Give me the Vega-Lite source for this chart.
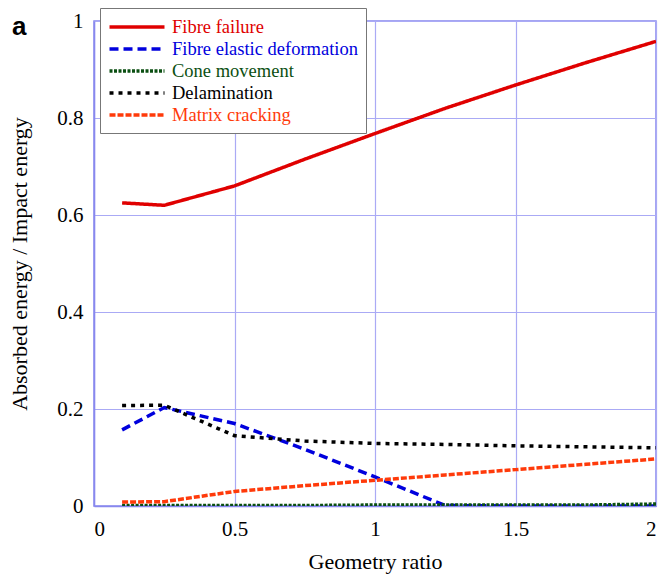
{
  "$schema": "https://vega.github.io/schema/vega-lite/v6.json",
  "autosize": "none",
  "width": 562,
  "height": 485,
  "padding": {"left": 94, "top": 21, "right": 5, "bottom": 75},
  "background": "white",
  "title": {"text": "a", "anchor": "start", "orient": "top", "frame": "group", "offset": 0, "dx": -82, "dy": 32, "font": "Liberation Sans", "fontSize": 26, "fontWeight": "bold", "color": "black"},
  "config": {
    "view": {"stroke": "#8888ee", "strokeWidth": 1.5},
    "axis": {"labelFont": "Liberation Serif", "titleFont": "Liberation Serif", "labelFontSize": 21, "titleFontSize": 22, "titleFontWeight": "normal", "labelColor": "black", "titleColor": "black", "gridColor": "#aaaaf5", "gridWidth": 1.2, "domainColor": "#8888ee", "domainWidth": 1.5, "ticks": false}
  },
  "data": {"values": [
    {"series": "Fibre failure", "x": 0.1, "y": 0.625},
    {"series": "Fibre failure", "x": 0.25, "y": 0.62},
    {"series": "Fibre failure", "x": 0.5, "y": 0.66},
    {"series": "Fibre failure", "x": 0.75, "y": 0.715},
    {"series": "Fibre failure", "x": 1.0, "y": 0.768},
    {"series": "Fibre failure", "x": 1.25, "y": 0.82},
    {"series": "Fibre failure", "x": 1.5, "y": 0.868},
    {"series": "Fibre failure", "x": 1.75, "y": 0.914},
    {"series": "Fibre failure", "x": 2.0, "y": 0.958},
    {"series": "Fibre elastic deformation", "x": 0.1, "y": 0.157},
    {"series": "Fibre elastic deformation", "x": 0.25, "y": 0.203},
    {"series": "Fibre elastic deformation", "x": 0.5, "y": 0.17},
    {"series": "Fibre elastic deformation", "x": 0.75, "y": 0.117},
    {"series": "Fibre elastic deformation", "x": 1.0, "y": 0.06},
    {"series": "Fibre elastic deformation", "x": 1.25, "y": 0.001},
    {"series": "Fibre elastic deformation", "x": 1.5, "y": 0.0},
    {"series": "Fibre elastic deformation", "x": 1.75, "y": 0.0},
    {"series": "Fibre elastic deformation", "x": 2.0, "y": 0.0},
    {"series": "Cone movement", "x": 0.1, "y": 0.001},
    {"series": "Cone movement", "x": 0.25, "y": 0.001},
    {"series": "Cone movement", "x": 0.5, "y": 0.001},
    {"series": "Cone movement", "x": 0.75, "y": 0.001},
    {"series": "Cone movement", "x": 1.0, "y": 0.002},
    {"series": "Cone movement", "x": 1.25, "y": 0.002},
    {"series": "Cone movement", "x": 1.5, "y": 0.002},
    {"series": "Cone movement", "x": 1.75, "y": 0.002},
    {"series": "Cone movement", "x": 2.0, "y": 0.004},
    {"series": "Delamination", "x": 0.1, "y": 0.207},
    {"series": "Delamination", "x": 0.25, "y": 0.208},
    {"series": "Delamination", "x": 0.5, "y": 0.145},
    {"series": "Delamination", "x": 0.75, "y": 0.134},
    {"series": "Delamination", "x": 1.0, "y": 0.129},
    {"series": "Delamination", "x": 1.25, "y": 0.127},
    {"series": "Delamination", "x": 1.5, "y": 0.124},
    {"series": "Delamination", "x": 1.75, "y": 0.122},
    {"series": "Delamination", "x": 2.0, "y": 0.12},
    {"series": "Matrix cracking", "x": 0.1, "y": 0.008},
    {"series": "Matrix cracking", "x": 0.25, "y": 0.009},
    {"series": "Matrix cracking", "x": 0.5, "y": 0.03},
    {"series": "Matrix cracking", "x": 0.75, "y": 0.042},
    {"series": "Matrix cracking", "x": 1.0, "y": 0.053},
    {"series": "Matrix cracking", "x": 1.25, "y": 0.064},
    {"series": "Matrix cracking", "x": 1.5, "y": 0.075},
    {"series": "Matrix cracking", "x": 1.75, "y": 0.086},
    {"series": "Matrix cracking", "x": 2.0, "y": 0.097}
  ]},
  "mark": {"type": "line", "clip": true},
  "encoding": {
    "x": {"field": "x", "type": "quantitative", "scale": {"domain": [0, 2], "nice": false}, "axis": {"values": [0, 0.5, 1, 1.5, 2], "format": "~g", "title": "Geometry ratio", "labelPadding": 12, "titlePadding": 12, "grid": true}},
    "y": {"field": "y", "type": "quantitative", "scale": {"domain": [0, 1], "nice": false}, "axis": {"values": [0, 0.2, 0.4, 0.6, 0.8, 1], "format": "~g", "title": "Absorbed energy / Impact energy", "labelPadding": 11, "titlePadding": 25, "grid": true}},
    "color": {"field": "series", "type": "nominal",
      "sort": ["Fibre failure", "Fibre elastic deformation", "Cone movement", "Delamination", "Matrix cracking"],
      "scale": {"domain": ["Fibre failure", "Fibre elastic deformation", "Cone movement", "Delamination", "Matrix cracking"], "range": ["#e00000", "#0000dd", "#0b4f12", "#000000", "#ff3a0a"]},
      "legend": {"title": null, "orient": "none", "legendX": 6, "legendY": -13, "fillColor": "white", "strokeColor": "#777777", "padding": 8, "symbolType": "M-3,0H3", "symbolSize": 336, "labelFont": "Liberation Serif", "labelFontSize": 18.5, "labelOffset": 24, "labelLimit": 400, "rowPadding": 1, "symbolOffset": 18,
        "encode": {"labels": {"update": {"fill": {"scale": "color", "field": "value"}}}}}},
    "strokeDash": {"field": "series", "type": "nominal",
      "sort": ["Fibre failure", "Fibre elastic deformation", "Cone movement", "Delamination", "Matrix cracking"],
      "scale": {"domain": ["Fibre failure", "Fibre elastic deformation", "Cone movement", "Delamination", "Matrix cracking"], "range": [[1, 0], [9, 5], [3, 1.5], [4, 5], [6, 2]]}},
    "strokeWidth": {"field": "series", "type": "nominal",
      "sort": ["Fibre failure", "Fibre elastic deformation", "Cone movement", "Delamination", "Matrix cracking"],
      "scale": {"domain": ["Fibre failure", "Fibre elastic deformation", "Cone movement", "Delamination", "Matrix cracking"], "range": [3.5, 3.5, 2.5, 3.5, 3]}}
  }
}
